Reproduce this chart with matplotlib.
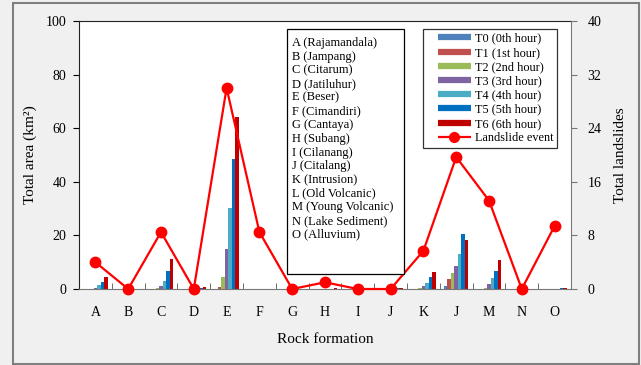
import numpy as np
import matplotlib.pyplot as plt
from matplotlib.lines import Line2D
from matplotlib.patches import Rectangle
from matplotlib.legend_handler import HandlerLine2D

plt.rcParams['font.family'] = ['Liberation Serif', 'DejaVu Serif']

# rock formation codes on the x axis
cats = ['A', 'B', 'C', 'D', 'E', 'F', 'G', 'H', 'I', 'J', 'K', 'J', 'M', 'N', 'O']
rock_names = ['A (Rajamandala)', 'B (Jampang)', 'C (Citarum)', 'D (Jatiluhur)',
              'E (Beser)', 'F (Cimandiri)', 'G (Cantaya)', 'H (Subang)',
              'I (Cilanang)', 'J (Citalang)', 'K (Intrusion)', 'L (Old Volcanic)',
              'M (Young Volcanic)', 'N (Lake Sediment)', 'O (Alluvium)']

# total area (km2) per hour
t0 = [0, 0, 0, 0, 0, 0, 0, 0, 0, 0, 0, 1.1, 0, 0, 0]
t1 = [0, 0, 0, 0, 0.9, 0, 0, 0, 0, 0, 0, 3.6, 0, 0, 0]
t2 = [0.1, 0, 0.2, 0, 4.6, 0, 0, 0, 0, 0, 0.3, 5.9, 0.3, 0, 0]
t3 = [0.3, 0, 1.1, 0, 14.8, 0, 0, 0, 0, 0, 1.1, 8.6, 1.9, 0, 0]
t4 = [1.4, 0, 3.1, 0.1, 30.3, 0, 0, 0, 0, 0, 2.4, 13.2, 4.1, 0, 0]
t5 = [2.7, 0, 6.7, 0.3, 48.4, 0, 0, 0, 0, 0.3, 4.5, 20.5, 6.8, 0, 0.3]
t6 = [4.6, 0, 11.1, 0.6, 64.3, 0, 0, 0.3, 0, 0.5, 6.5, 18.3, 10.8, 0, 0.3]

# landslide counts
landslides = [4, 0, 8.5, 0, 30, 8.5, 0, 1, 0, 0, 5.7, 19.7, 13.2, 0, 9.4]

series = [t0, t1, t2, t3, t4, t5, t6]
labels = ['T0 (0th hour)', 'T1 (1st hour)', 'T2 (2nd hour)', 'T3 (3rd hour)',
          'T4 (4th hour)', 'T5 (5th hour)', 'T6 (6th hour)']
colors = ['#4F81BD', '#C0504D', '#9BBB59', '#8064A2', '#4BACC6', '#0070C0', '#C00000']

fig = plt.figure(figsize=(6.41, 3.65), dpi=100, facecolor='#f0f0f0')
fig.patches.append(Rectangle((13 / 641, 1 / 365), 626 / 641, 361 / 365,
                             transform=fig.transFigure, fill=False,
                             edgecolor='#7f7f7f', linewidth=1.5))

ax = fig.add_axes([79 / 641, 1 - 289 / 365, 492 / 641, 268 / 365])
x = np.arange(len(cats))
w = 0.107
for i, (vals, c) in enumerate(zip(series, colors)):
    ax.bar(x + (i - 3) * w, vals, width=w, color=c, linewidth=0)

ax.set_xlim(-0.5, len(cats) - 0.5)
ax.set_ylim(0, 100)
ax.set_yticks(np.arange(0, 101, 20))
ax.set_xticks(x)
ax.set_xticklabels(cats)
ax.set_xticks(np.arange(0.5, len(cats) - 0.5), minor=True)
ax.tick_params(axis='x', which='major', length=0, pad=12, labelsize=10)
ax.tick_params(axis='x', which='minor', direction='in', length=4, color='#555555')
ax.tick_params(axis='y', direction='out', length=4, labelsize=10, pad=5)
ax.set_xlabel('Rock formation', fontsize=11, labelpad=10)
ax.set_ylabel('Total area (km²)', fontsize=11, labelpad=6)
ax.spines['right'].set_visible(False)
ax.spines['left'].set_color('#222222')
ax.spines['bottom'].set_color('#777777')
ax.spines['top'].set_color('#222222')

ax2 = ax.twinx()
ax2.plot(x, landslides, color='#FF0000', linewidth=1.6, marker='o',
         markersize=7.5, zorder=5, clip_on=False)
ax2.set_ylim(0, 40)
ax2.set_yticks(np.arange(0, 41, 8))
ax2.tick_params(axis='y', direction='out', length=4, labelsize=10, pad=8,
                color='#777777')
ax2.spines['right'].set_color('#777777')
for s in ['left', 'top', 'bottom']:
    ax2.spines[s].set_visible(False)
ax2.set_ylabel('Total landslides', fontsize=11, labelpad=9)

# box listing the rock formation names
ax2.add_patch(Rectangle((0.4228, 0.056), 0.2378, 0.914, transform=ax2.transAxes,
                        facecolor='white', edgecolor='black', linewidth=0.9,
                        zorder=6))
for i, name in enumerate(rock_names):
    ax2.text(0.4335, 0.918 - i * 0.0511, name, transform=ax2.transAxes,
             fontsize=9, va='center', ha='left', zorder=7)

handles = [Line2D([0], [0], color=c, linewidth=4.5, solid_capstyle='butt')
           for c in colors]
handles.append(Line2D([0], [0], color='#FF0000', linewidth=1.6, marker='o',
                      markersize=7, solid_capstyle='butt'))
leg = ax2.legend(handles, labels + ['Landslide event'], loc='upper right',
                 bbox_to_anchor=(0.9715, 0.970), borderaxespad=0, fontsize=8.8,
                 frameon=True, fancybox=False, edgecolor='black',
                 handlelength=3.6, handletextpad=0.35, labelspacing=0.18,
                 borderpad=0.3,
                 handler_map={Line2D: HandlerLine2D(xpad=0.9)})
leg.get_frame().set_linewidth(0.9)
leg.set_zorder(8)

fig.savefig('out.png', dpi=100, facecolor=fig.get_facecolor())
